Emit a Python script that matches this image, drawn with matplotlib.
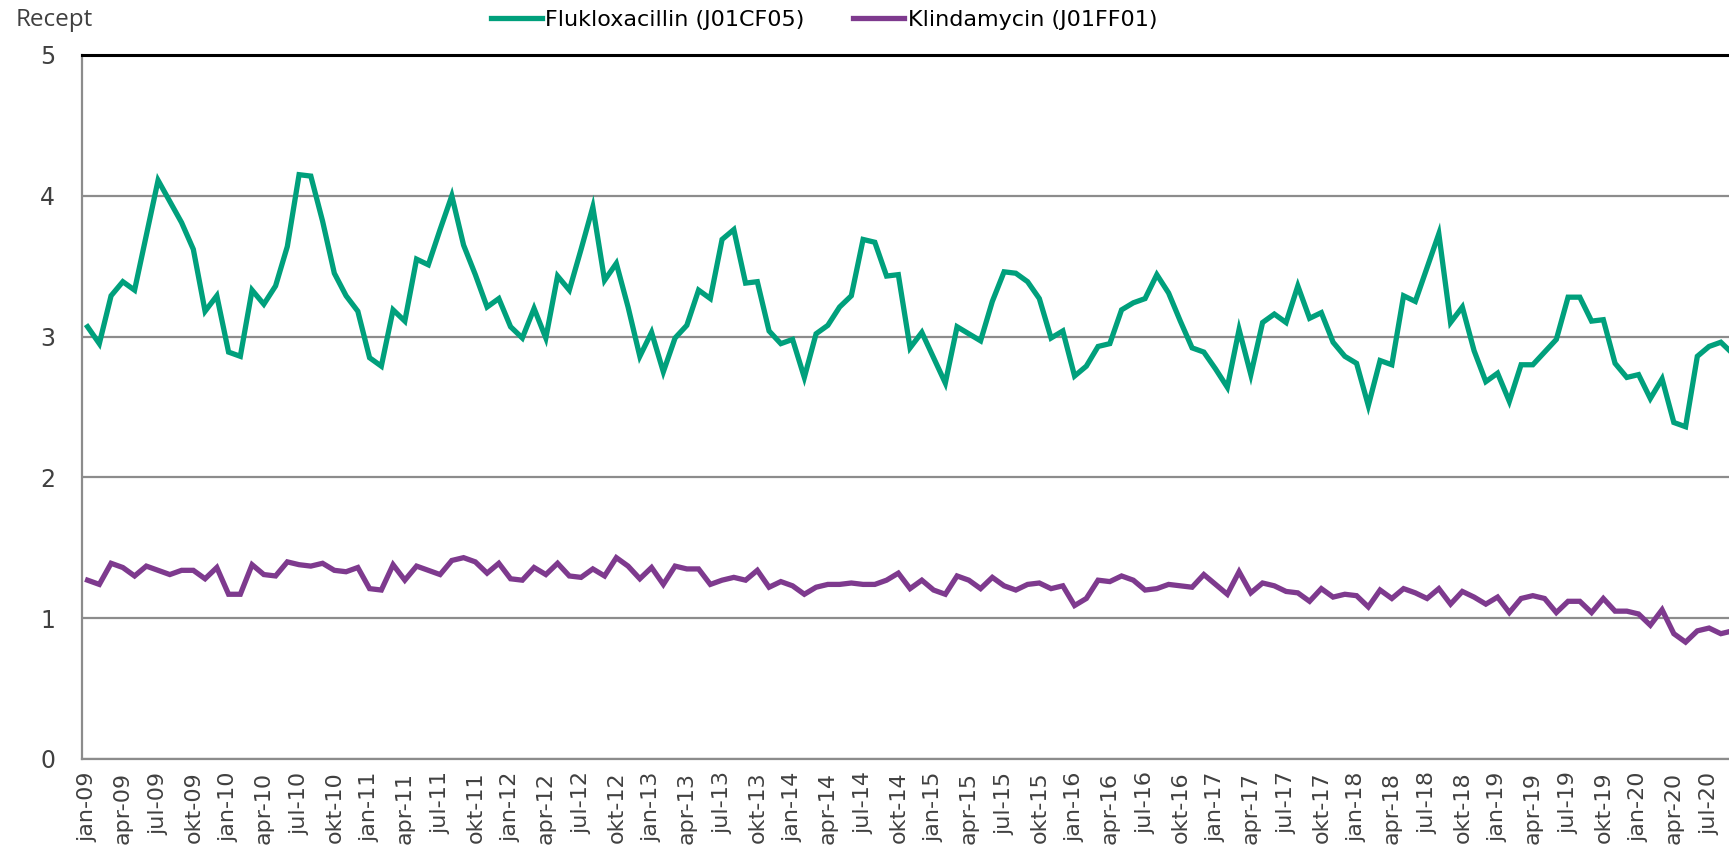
import matplotlib
matplotlib.use("Agg")
import matplotlib.pyplot as plt

# månadsdata jan-09 .. sep-20 (recept)
flukloxacillin = [
    3.07, 2.95, 3.29, 3.39, 3.33, 3.72, 4.11, 3.96, 3.81, 3.62, 3.18, 3.29,
    2.89, 2.86, 3.33, 3.23, 3.36, 3.64, 4.15, 4.14, 3.82, 3.45, 3.29, 3.18,
    2.85, 2.79, 3.19, 3.11, 3.55, 3.51, 3.76, 4.00, 3.65, 3.44, 3.21, 3.27,
    3.07, 2.99, 3.20, 2.99, 3.43, 3.33, 3.62, 3.92, 3.40, 3.52, 3.21, 2.86,
    3.03, 2.75, 2.99, 3.08, 3.33, 3.27, 3.69, 3.76, 3.38, 3.39, 3.04, 2.95,
    2.98, 2.71, 3.02, 3.08, 3.21, 3.29, 3.69, 3.67, 3.43, 3.44, 2.92, 3.03,
    2.85, 2.67, 3.07, 3.02, 2.97, 3.25, 3.46, 3.45, 3.39, 3.27, 2.99, 3.04,
    2.72, 2.79, 2.93, 2.95, 3.19, 3.24, 3.27, 3.44, 3.31, 3.11, 2.92, 2.89,
    2.77, 2.64, 3.05, 2.73, 3.10, 3.16, 3.10, 3.36, 3.13, 3.17, 2.96, 2.86,
    2.81, 2.51, 2.83, 2.80, 3.29, 3.25, 3.49, 3.73, 3.10, 3.21, 2.90, 2.68,
    2.74, 2.54, 2.80, 2.80, 2.89, 2.98, 3.28, 3.28, 3.11, 3.12, 2.81, 2.71,
    2.73, 2.56, 2.70, 2.39, 2.36, 2.86, 2.93, 2.96, 2.88,
]
klindamycin = [
    1.27, 1.24, 1.39, 1.36, 1.30, 1.37, 1.34, 1.31, 1.34, 1.34, 1.28, 1.36,
    1.17, 1.17, 1.38, 1.31, 1.30, 1.40, 1.38, 1.37, 1.39, 1.34, 1.33, 1.36,
    1.21, 1.20, 1.38, 1.27, 1.37, 1.34, 1.31, 1.41, 1.43, 1.40, 1.32, 1.39,
    1.28, 1.27, 1.36, 1.31, 1.39, 1.30, 1.29, 1.35, 1.30, 1.43, 1.37, 1.28,
    1.36, 1.24, 1.37, 1.35, 1.35, 1.24, 1.27, 1.29, 1.27, 1.34, 1.22, 1.26,
    1.23, 1.17, 1.22, 1.24, 1.24, 1.25, 1.24, 1.24, 1.27, 1.32, 1.21, 1.27,
    1.20, 1.17, 1.30, 1.27, 1.21, 1.29, 1.23, 1.20, 1.24, 1.25, 1.21, 1.23,
    1.09, 1.14, 1.27, 1.26, 1.30, 1.27, 1.20, 1.21, 1.24, 1.23, 1.22, 1.31,
    1.24, 1.17, 1.33, 1.18, 1.25, 1.23, 1.19, 1.18, 1.12, 1.21, 1.15, 1.17,
    1.16, 1.08, 1.20, 1.14, 1.21, 1.18, 1.14, 1.21, 1.10, 1.19, 1.15, 1.10,
    1.15, 1.04, 1.14, 1.16, 1.14, 1.04, 1.12, 1.12, 1.04, 1.14, 1.05, 1.05,
    1.03, 0.95, 1.06, 0.89, 0.83, 0.91, 0.93, 0.89, 0.91,
]

tick_months = ['jan', 'apr', 'jul', 'okt']
years = ['09', '10', '11', '12', '13', '14', '15', '16', '17', '18', '19', '20']
tick_labels = [f"{m}-{y}" for y in years for m in tick_months][:47]
y_ticks = [0, 1, 2, 3, 4, 5]

green = '#00A07C'
purple = '#7E3A8E'
text_col = '#404040'

fig = plt.figure(figsize=(17.29, 8.51), dpi=100)
ax = fig.add_axes([81.7 / 1729, (851 - 759) / 851, 1 - 81.7 / 1729, (759 - 55) / 851])

x = list(range(len(flukloxacillin)))
ax.plot(x, flukloxacillin, color=green, lw=3.8, solid_joinstyle='miter',
        label='Flukloxacillin (J01CF05)')
ax.plot(x, klindamycin, color=purple, lw=3.8, solid_joinstyle='miter',
        label='Klindamycin (J01FF01)')

ax.set_xlim(-0.5, (1729 - 81.7) / 11.75 - 0.5)
ax.set_ylim(0, 5)
ax.set_yticks(y_ticks)
ax.set_yticklabels([str(t) for t in y_ticks])
ax.set_xticks(range(0, 3 * len(tick_labels), 3))
ax.set_xticklabels(tick_labels, rotation=90)

ax.grid(axis='y', color='#8c8c8c', lw=1.6)
ax.set_axisbelow(True)
for s in ['left', 'bottom']:
    ax.spines[s].set_color('#8c8c8c')
    ax.spines[s].set_linewidth(1.6)
ax.spines['top'].set_color('black')
ax.spines['top'].set_linewidth(2.2)
ax.spines['right'].set_visible(False)
ax.tick_params(axis='y', length=0, pad=19, labelsize=17, labelcolor=text_col)
ax.tick_params(axis='x', length=0, pad=9, labelsize=16, labelcolor=text_col)

fig.text(16 / 1729, 1 - 20 / 851, 'Recept', fontsize=17.5, color=text_col,
         va='center', ha='left', family='Open Sans')

fig.legend(loc='center', bbox_to_anchor=(0.4765, 1 - 20 / 851), ncol=2,
           frameon=False, fontsize=16, handlelength=2.3, handletextpad=0.15,
           columnspacing=2.2)

plt.savefig('out.png', dpi=100)
plt.close()
